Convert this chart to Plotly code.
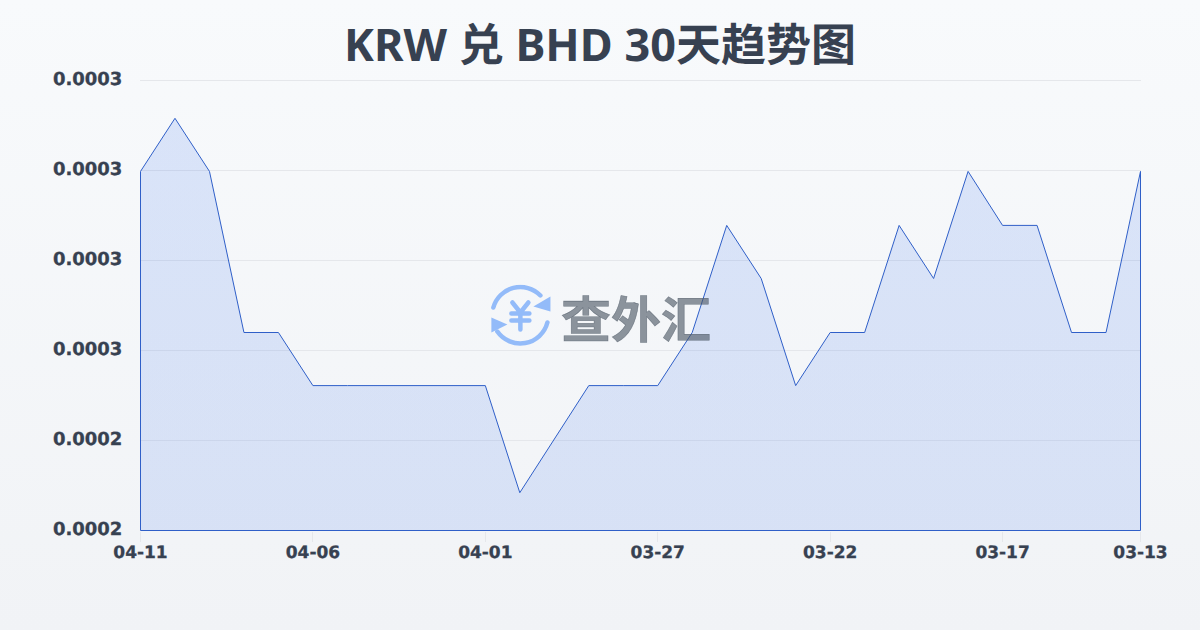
import base64
import plotly.graph_objects as go

TITLE = "KRW 兑 BHD 30天趋势图"
WATERMARK = "查外汇"
dates = ["04-11","04-10","04-09","04-08","04-07","04-06","04-05","04-04","04-03","04-02",
         "04-01","03-31","03-30","03-29","03-28","03-27","03-26","03-25","03-24","03-23",
         "03-22","03-21","03-20","03-19","03-18","03-17","03-16","03-15","03-14","03-13"]
rates = [0.0002799,0.0002858,0.0002799,0.000262,0.000262,0.0002561,0.0002561,0.0002561,0.0002561,0.0002561,
         0.0002561,0.0002442,0.0002501,0.0002561,0.0002561,0.0002561,0.000262,0.0002739,0.000268,0.0002561,
         0.000262,0.000262,0.0002739,0.000268,0.0002799,0.0002739,0.0002739,0.000262,0.000262,0.0002799]
x_tick_idx = [0,5,10,15,20,25,29]
y_ticks = [0.00024,0.00025,0.00026,0.00027,0.00028,0.00029]
y_tick_labels = ["0.0002","0.0002","0.0003","0.0003","0.0003","0.0003"]
y_min, y_max = 0.00024, 0.00029

TEXT = "#374151"
LINE = "#2f5fc8"
FONT = "DejaVu Sans"
CJK = "Noto Sans, Noto Sans CJK SC, sans-serif"

logo_svg = """<svg xmlns="http://www.w3.org/2000/svg" viewBox="0 0 64 64" width="64" height="64">
<g fill="none" stroke="#93bbf9" stroke-width="4.5" stroke-linecap="round" stroke-linejoin="round">
<path d="M5 23 A28 28 0 0 1 52 11"/><path d="M59 38 A28 28 0 0 1 9 47"/>
<path d="M24 18 L32 28 L40 18 M23 29 H41 M23 36 H41 M32 28 V45"/></g>
<g fill="#93bbf9"><path d="M62 12 L62 27 L45 22 Z"/><path d="M3 33 L3 48 L19 40 Z"/></g></svg>"""
logo = "data:image/svg+xml;base64," + base64.b64encode(logo_svg.encode()).decode()

# half-pixel range offsets keep the 1px strokes crisp on the pixel grid
x_pad = 0.5 * 29 / 1000
y_pad = 0.5 * (y_max - y_min) / 450

idx = list(range(len(rates)))
fig = go.Figure(go.Scatter(
    x=idx + [idx[-1], idx[0], idx[0]],
    y=rates + [y_min, y_min, rates[0]],
    mode="lines", fill="toself",
    line=dict(color=LINE, width=1),
    fillgradient=dict(type="vertical", colorscale=[[0, "rgba(37,99,235,0.13)"], [1, "rgba(37,99,235,0.14)"]]),
    cliponaxis=False, hoverinfo="skip", showlegend=False,
))
fig.update_layout(
    width=1200, height=630, margin=dict(l=140, r=59, t=80, b=99),
    paper_bgcolor="rgba(0,0,0,0)", plot_bgcolor="rgba(0,0,0,0)",
    title=dict(text=TITLE, x=0.5, xanchor="center", y=0.928, yanchor="middle",
               font=dict(family=CJK, size=45, color=TEXT, weight="bold")),
    xaxis=dict(range=[-x_pad, 29 + x_pad], tickmode="array", tickvals=x_tick_idx,
               ticktext=[dates[i] for i in x_tick_idx], showgrid=False, zeroline=False,
               ticks="outside", ticklen=10, tickwidth=1, tickcolor="#e5e7eb",
               ticklabelstandoff=-4,
               tickfont=dict(family=FONT, size=17, color=TEXT, weight="bold"), tickangle=0),
    yaxis=dict(range=[y_min - y_pad, y_max + y_pad], tickmode="array", tickvals=y_ticks, ticktext=y_tick_labels,
               showgrid=True, gridcolor="#e5e7eb", gridwidth=1, zeroline=False,
               ticks="outside", ticklen=13, tickcolor="rgba(0,0,0,0)", ticklabelshift=-2,
               tickfont=dict(family=FONT, size=18, color=TEXT, weight="bold")),
    shapes=[dict(type="line", xref="paper", x0=0, x1=1, yref="y", y0=y_max, y1=y_max,
                 line=dict(color="#e5e7eb", width=1), layer="below")],
    annotations=[dict(text=WATERMARK, xref="paper", yref="paper", x=(636-140)/1000, y=(530-315)/450,
                      xanchor="center", yanchor="middle", showarrow=False,
                      font=dict(family="Noto Sans CJK SC", size=50, color="rgba(75,85,99,0.62)", weight="bold"))],
    images=[dict(source=logo, xref="paper", yref="paper", x=(488-140)/1000, y=(530-284)/450,
                 sizex=64/1000, sizey=64/450, xanchor="left", yanchor="top", sizing="stretch", layer="above")],
)
fig.write_html("out.html", config={"displayModeBar": False}, post_script="""
var s=document.createElement('style');
s.textContent='svg text{text-rendering:geometricPrecision}.xtick text,.ytick text{stroke:#374151;stroke-width:.3px}.annotation-text{stroke:rgba(75,85,99,.62);stroke-width:.6px}';
document.head.appendChild(s);
document.documentElement.style.height='100%';
document.body.style.margin='0';document.body.style.overflow='hidden';document.body.style.height='100%';
document.body.style.background='linear-gradient(180deg,#f8fafc,#f1f3f6)';
""")
